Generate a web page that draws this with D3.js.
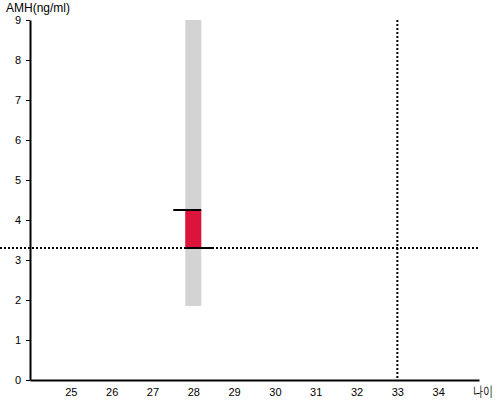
<!DOCTYPE html>
<html>
<head>
<meta charset="utf-8">
<script src="https://cdn.jsdelivr.net/npm/d3@7"></script>
<style>
  body { margin: 0; background: #fff; }
  text { font-family: "Liberation Sans", Arial, sans-serif; }
</style>
</head>
<body>
<div id="chart"></div>
<script>
// data
var xDomain = [24, 35];
var yDomain = [0, 9];
var xTicks = [25, 26, 27, 28, 29, 30, 31, 32, 33, 34];
var yTicks = [0, 1, 2, 3, 4, 5, 6, 7, 8, 9];
var age = 28;
var rangeLow = 1.85, rangeHigh = 9;
var amhLow = 3.3, amhHigh = 4.25;
var refAmh = 3.3;
var refAge = 33;

var width = 500, height = 400;
var svg = d3.select("#chart").append("svg").attr("width", width).attr("height", height);

var x = d3.scaleLinear().domain(xDomain).range([30, 479]);
var y = d3.scaleLinear().domain(yDomain).range([380, 20]);
var barW = 16;

// gray range bar
svg.append("rect")
  .attr("x", x(age) - barW / 2).attr("width", barW)
  .attr("y", y(rangeHigh)).attr("height", y(rangeLow) - y(rangeHigh))
  .attr("fill", "#d3d3d3");

// red bar
svg.append("rect")
  .attr("x", x(age) - barW / 2).attr("width", barW)
  .attr("y", y(amhHigh)).attr("height", y(amhLow) - y(amhHigh))
  .attr("fill", "#dc143c");

// reference dotted lines
svg.append("line")
  .attr("x1", 0).attr("x2", x(xDomain[1]))
  .attr("y1", y(refAmh)).attr("y2", y(refAmh))
  .attr("stroke", "#000").attr("stroke-width", 2).attr("stroke-dasharray", "2,2");
svg.append("line")
  .attr("x1", x(refAge)).attr("x2", x(refAge))
  .attr("y1", y(yDomain[1])).attr("y2", y(0))
  .attr("stroke", "#000").attr("stroke-width", 2).attr("stroke-dasharray", "2,2");

// caps
svg.append("line")
  .attr("x1", x(age) - barW / 2 - 12).attr("x2", x(age) + barW / 2)
  .attr("y1", y(amhHigh)).attr("y2", y(amhHigh))
  .attr("stroke", "#000").attr("stroke-width", 2);
svg.append("line")
  .attr("x1", x(age) - barW / 2).attr("x2", x(age) + barW / 2 + 12)
  .attr("y1", y(amhLow)).attr("y2", y(amhLow))
  .attr("stroke", "#000").attr("stroke-width", 2);

// axes
var yAxis = svg.append("g").attr("transform", "translate(30,0)")
  .call(d3.axisLeft(y).tickValues(yTicks).tickSize(4).tickSizeOuter(0));
var xAxis = svg.append("g").attr("transform", "translate(0,380)")
  .call(d3.axisBottom(x).tickValues(xTicks).tickSize(0).tickSizeOuter(0).tickPadding(8));
svg.selectAll(".domain").attr("stroke-width", 2);
svg.selectAll(".tick text").attr("font-size", 11).attr("font-family", "Liberation Sans, Arial, sans-serif");
yAxis.selectAll(".tick text").attr("dx", "-2");

svg.append("text").attr("x", 6).attr("y", 12).attr("font-size", 12).text("AMH(ng/ml)");
svg.append("text").attr("x", 473).attr("y", 396).attr("font-size", 14)
  .attr("font-family", "Noto Sans CJK KR").attr("font-weight", 300)
  .attr("textLength", 20).attr("lengthAdjust", "spacingAndGlyphs").text("나이");
</script>
</body>
</html>
